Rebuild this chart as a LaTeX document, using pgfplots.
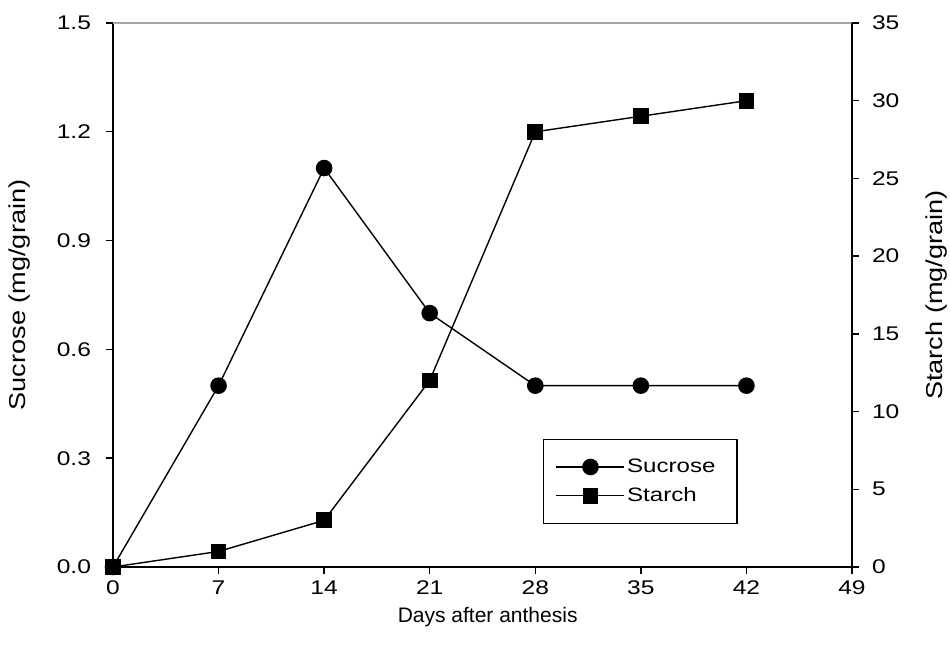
\documentclass[border=0pt]{standalone}
\usepackage{pgfplots}
\pgfplotsset{compat=1.18}
\usepackage{fontspec}
\setmainfont{Liberation Sans}
\newfontfamily\tickfont{Liberation Sans}[FakeStretch=1.24]
\newfontfamily\ylabfont{Liberation Sans}[FakeStretch=1.18]
\begin{document}
\begin{tikzpicture}
\path[use as bounding box] (-56.5pt,-42.5pt) rectangle (418.5pt,283.5pt);
\pgfplotsset{
  every axis/.append style={
    scale only axis, width=369.5pt, height=272pt,
    xmin=0, xmax=49,
    tick align=outside, major tick length=3.5pt,
    axis line style={-, line width=0.7pt},
    tick style={line width=0.7pt, black},
    /pgf/number format/assume math mode=true,
    tick label style={font=\tickfont\fontsize{9.9}{11}\selectfont},
  },
}
\begin{axis}[
  axis x line*=bottom, axis y line*=left,
  ymin=0, ymax=1.5,
  xtick={0,7,...,49},
  ytick={0,0.3,0.6,0.9,1.2,1.5},
  yticklabel style={xshift=-4pt, /pgf/number format/fixed, /pgf/number format/fixed zerofill, /pgf/number format/precision=1},
  xlabel={Days after anthesis},
  ylabel={Sucrose (mg/grain)},
  xlabel style={at={(axis description cs:0.507,-0.092)}, anchor=center, font=\fontsize{10.5}{12}\selectfont},
  ylabel style={at={(axis description cs:-0.1259,0.5)}, anchor=center, font=\ylabfont\fontsize{11.5}{13}\selectfont},
  clip=false,
]
\draw[gray!70, line width=0.9pt] (rel axis cs:0,1) -- (rel axis cs:1,1);
\addplot[black, line width=0.7pt, mark=*, mark size=3.8pt] coordinates {
(0,0) (7,0.5) (14,1.1) (21,0.7) (28,0.5) (35,0.5) (42,0.5)};
\end{axis}
\begin{axis}[
  axis x line=none, axis y line*=right,
  ymin=0, ymax=35,
  ytick={0,5,...,35},
  yticklabel style={xshift=3pt},
  ylabel={Starch (mg/grain)},
  ylabel style={at={(axis description cs:1.115,0.5)}, anchor=center, font=\ylabfont\fontsize{11.5}{13}\selectfont},
  legend style={at={(0.582,0.079)}, anchor=south west, draw=black, line width=0.7pt,
    font=\tickfont\fontsize{9.7}{11}\selectfont, inner xsep=6pt, inner ysep=8.5pt,
    row sep=4pt, nodes={inner sep=1pt}},
  legend cell align=left,
  legend image code/.code={
    \draw[mark repeat=2, mark phase=2, #1] plot coordinates {(0pt,0pt) (17pt,0pt) (34pt,0pt)};
  },
]
\addlegendimage{black, line width=0.7pt, mark=*, mark size=3.8pt}
\addlegendentry{\makebox[48pt][l]{Sucrose}}
\addplot[black, line width=0.7pt, mark=square*, mark size=3.6pt] coordinates {
(0,0) (7,1) (14,3) (21,12) (28,28) (35,29) (42,30)};
\addlegendentry{\makebox[48pt][l]{Starch}}
\end{axis}
\end{tikzpicture}
\end{document}
